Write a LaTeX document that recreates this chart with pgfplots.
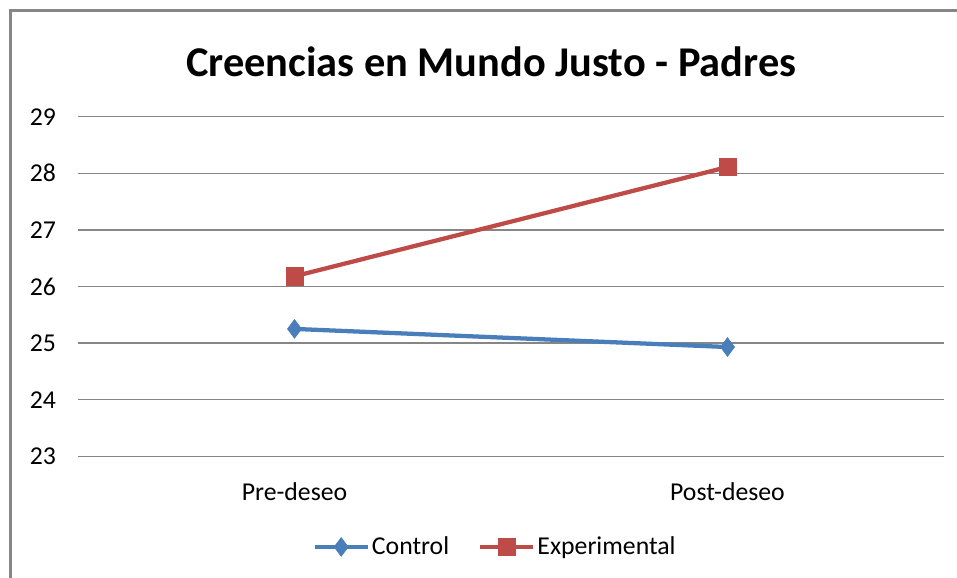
\documentclass[border=0pt]{standalone}
\usepackage{fontspec}
\setmainfont{Carlito}
\usepackage{pgfplots}
\pgfplotsset{compat=1.18}
\definecolor{ctrl}{RGB}{74,126,187}
\definecolor{expc}{RGB}{190,75,72}
\definecolor{gridc}{RGB}{134,134,134}
\begin{document}
\begin{tikzpicture}
\path[use as bounding box] (0pt,0pt) rectangle (717.75pt,433.5pt);
\draw[gridc, line width=2.25pt] (7.5pt,-5pt) -- (7.5pt,425.25pt) -- (725pt,425.25pt);
\node[font=\fontsize{31.8}{36}\selectfont\bfseries] at (368.5pt,387pt) {Creencias en Mundo Justo - Padres};
\begin{axis}[
  at={(58.5pt,91.3pt)}, anchor=south west,
  scale only axis, width=649.5pt, height=254.7pt,
  xmin=-0.5, xmax=1.5, ymin=23, ymax=29,
  xtick={0,1}, xticklabels={Pre-deseo,Post-deseo},
  ytick={23,24,25,26,27,28,29},
  major tick length=0pt,
  axis line style={draw=none},
  ymajorgrids, grid style={gridc, line width=1.1pt},
  /pgf/number format/assume math mode=true,
  tick label style={font=\fontsize{19.3}{22}\selectfont},
  yticklabel style={xshift=-13pt},
  xticklabel style={yshift=-16pt},
  legend columns=2,
  legend style={at={(0.4815,-0.267)}, anchor=center, draw=none, fill=none,
    font=\fontsize{19.3}{22}\selectfont, column sep=0pt,
    nodes={inner xsep=1.5pt},
    /tikz/every even column/.append style={column sep=20pt}},
  legend image code/.code={\draw[mark repeat=2,mark phase=2,#1] plot coordinates {(0pt,0pt) (20pt,0pt) (40pt,0pt)};},
]
\addplot[ctrl, line width=3.2pt, mark=diamond*, mark size=7pt, mark options={solid, line width=0.5pt}] coordinates {(0,25.25) (1,24.93)};
\addlegendentry{Control}
\addplot[expc, line width=3.2pt, mark=square*, mark size=6.5pt, mark options={solid, line width=0.5pt}] coordinates {(0,26.18) (1,28.11)};
\addlegendentry{Experimental}
\end{axis}
\end{tikzpicture}
\end{document}
